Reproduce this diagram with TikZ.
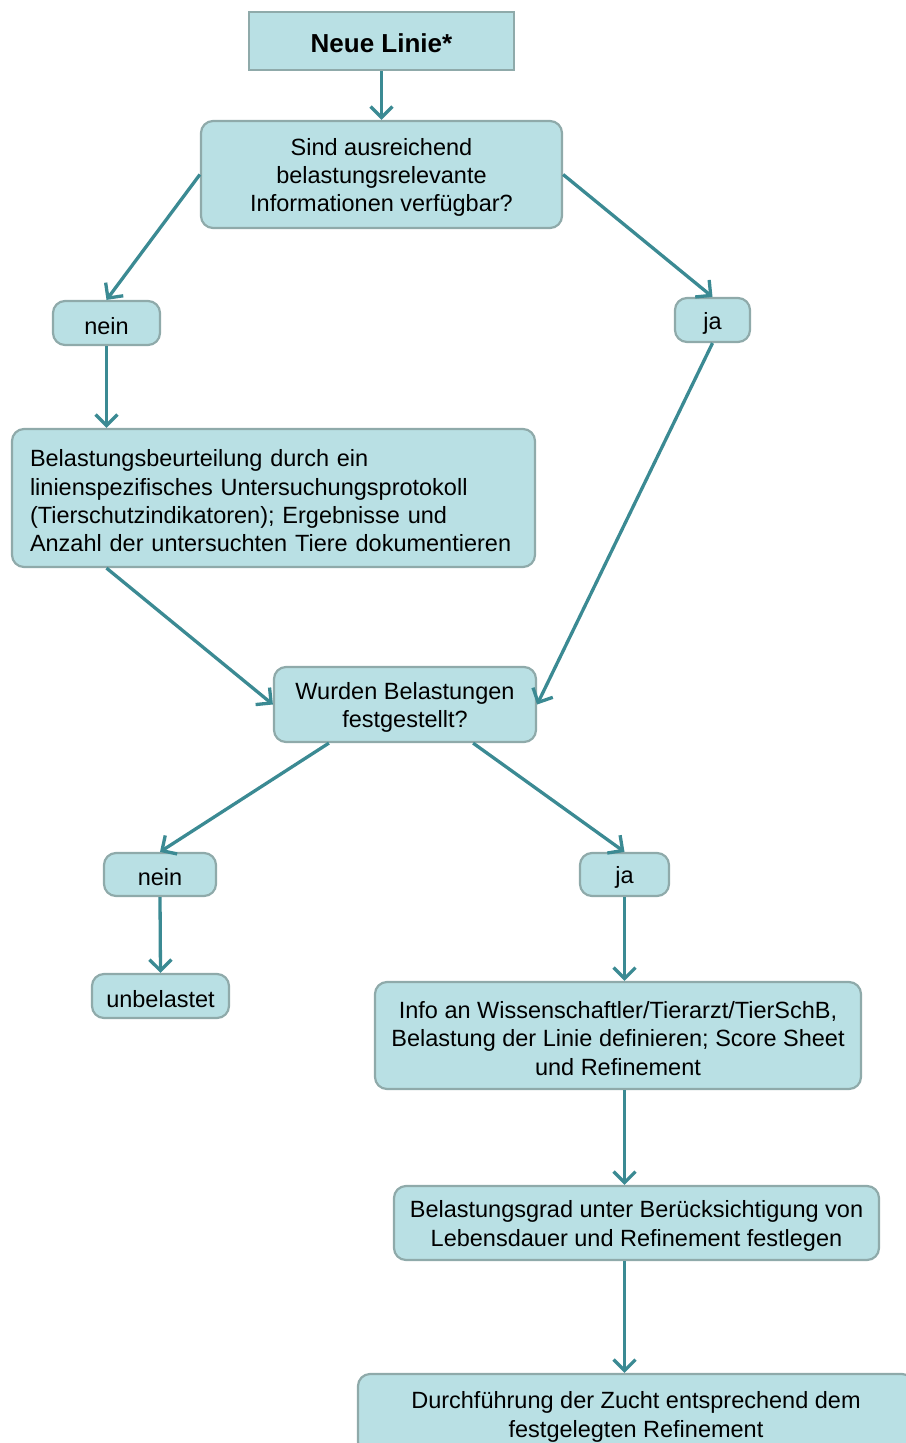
\documentclass[tikz,border=0pt]{standalone}
\usepackage{fontspec}
\setmainfont{Liberation Sans}
\usetikzlibrary{arrows.meta,calc}
\definecolor{boxfill}{HTML}{B9E0E4}
\definecolor{boxline}{HTML}{8FAAAA}
\definecolor{arrowc}{HTML}{3B8A93}
\newcommand{\dnstrut}{\rule{0pt}{23pt}}
\begin{document}
\begin{tikzpicture}[x=1pt,y=-1pt,
  box/.style={draw=boxline,fill=boxfill,line width=2.2pt,rounded corners=12pt,inner sep=0pt,align=center,font=\fontsize{23.5}{28.3}\selectfont},
  conn/.style={draw=arrowc,line width=3.3pt,-{Straight Barb[length=11pt,width=22pt]}}]
\useasboundingbox (0,0) rectangle (905,1443);
\node[box,rounded corners=0pt,minimum width=265pt,minimum height=58pt,font=\fontsize{26}{30}\selectfont\bfseries] (neu) at (381.5,41) {\dnstrut Neue Linie*};
\node[box,minimum width=361pt,minimum height=107pt] (q1) at (381.5,174.5) {\dnstrut Sind ausreichend\\belastungsrelevante\\Informationen verfügbar?};
\node[box,minimum width=107pt,minimum height=44pt] (nein1) at (106.5,323) {\dnstrut nein};
\node[box,minimum width=75pt,minimum height=44pt] (ja1) at (712.5,320) {\dnstrut ja};
\node[box,minimum width=523pt,minimum height=138pt,align=left,text width=487pt] (bel) at (273.5,498) {\dnstrut Belastungsbeurteilung durch ein\\linienspezifisches Untersuchungsprotokoll\\(Tierschutzindikatoren); Ergebnisse und\\Anzahl der untersuchten Tiere dokumentieren};
\node[box,minimum width=262pt,minimum height=75pt] (wur) at (405,704.5) {\dnstrut Wurden Belastungen\\festgestellt?};
\node[box,minimum width=112pt,minimum height=43pt] (nein2) at (160,874.5) {\dnstrut nein};
\node[box,minimum width=89pt,minimum height=43pt] (ja2) at (624.5,874.5) {\dnstrut ja};
\node[box,minimum width=137pt,minimum height=44pt] (unb) at (160.5,996) {\dnstrut unbelastet};
\node[box,minimum width=486pt,minimum height=107pt] (info) at (618,1035.5) {\dnstrut Info an Wissenschaftler/Tierarzt/TierSchB,\\Belastung der Linie definieren; Score Sheet\\und Refinement};
\node[box,minimum width=485pt,minimum height=74pt] (grad) at (636.5,1223) {\dnstrut Belastungsgrad unter Berücksichtigung von\\Lebensdauer und Refinement festlegen};
\node[box,minimum width=556pt,minimum height=80pt] (zucht) at (636,1414) {\dnstrut Durchführung der Zucht entsprechend dem\\festgelegten Refinement};
\draw[conn] (neu.south) -- (q1.north);
\draw[conn] (q1.west) -- (nein1.north);
\draw[conn] (q1.east) -- (ja1.north);
\draw[conn] (nein1.south) -- (nein1.south |- bel.north);
\draw[conn] (ja1.south) -- (wur.east);
\draw[conn] (bel.south -| nein1.south) -- (wur.west);
\draw[conn] ([xshift=56pt]wur.south west) -- (nein2.north);
\draw[conn] ([xshift=-64pt]wur.south east) -- (ja2.north);
\draw[conn] (nein2.south) -- (unb.north);
\draw[conn] (ja2.south) -- (ja2.south |- info.north);
\draw[conn] (info.south -| ja2.south) -- (ja2.south |- grad.north);
\draw[conn] (grad.south -| ja2.south) -- (ja2.south |- zucht.north);
\end{tikzpicture}
\end{document}
